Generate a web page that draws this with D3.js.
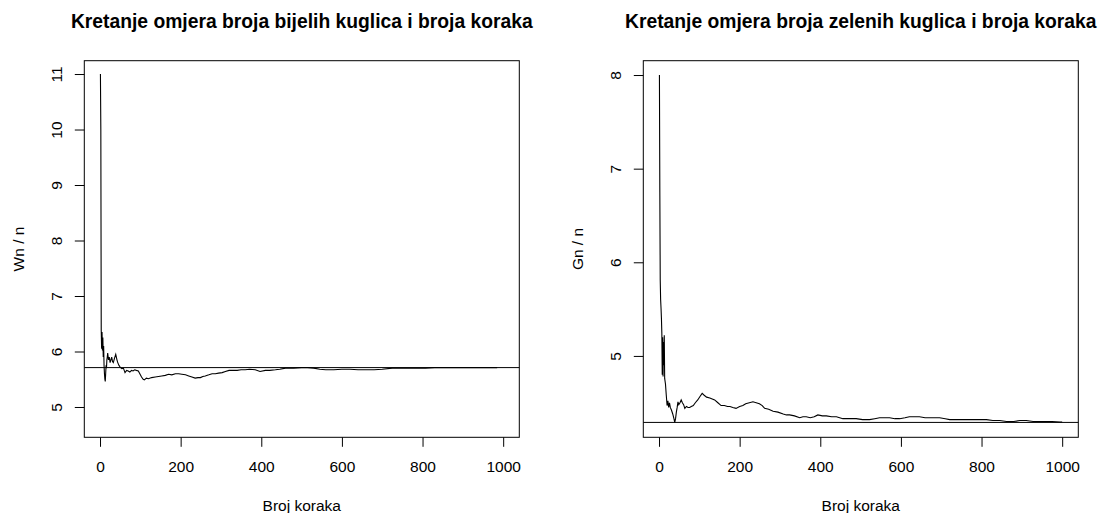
<!DOCTYPE html>
<html>
<head>
<meta charset="utf-8">
<script src="https://cdn.jsdelivr.net/npm/d3@7"></script>
<style>
  html, body { margin: 0; padding: 0; background: #fff; }
  svg { display: block; }
</style>
</head>
<body>
<div id="chart"></div>
<script>
// Values: [step n, ratio]
const whiteSeries = [
  [1, 11.0], [2, 10.0], [3, 6.38], [4, 6.05], [5, 6.35], [6, 6.02], [7, 6.25], [8, 5.9],
  [9, 6.1], [10, 5.75], [11, 5.6], [12, 5.5], [13, 5.46], [14, 5.6], [15, 5.75], [16, 5.7],
  [17, 5.85], [18, 5.9], [19, 5.97], [21, 5.85], [23, 5.9], [25, 5.8], [27, 5.85], [29, 5.9],
  [31, 5.82], [33, 5.8], [36, 5.88], [39, 5.95], [42, 5.85], [44, 5.8], [47, 5.75], [50, 5.72],
  [54, 5.69], [58, 5.7], [62, 5.62], [66, 5.66], [70, 5.65], [74, 5.63], [78, 5.66], [82, 5.65],
  [86, 5.67], [90, 5.66], [95, 5.65], [100, 5.58], [103, 5.54], [107, 5.5], [110, 5.49],
  [115, 5.52], [120, 5.51], [128, 5.53], [137, 5.54], [145, 5.55], [153, 5.56], [162, 5.57],
  [170, 5.59], [178, 5.58], [187, 5.6], [195, 5.6], [203, 5.59], [212, 5.58], [220, 5.56],
  [228, 5.54], [236, 5.52], [243, 5.53], [249, 5.53], [255, 5.55], [261, 5.56], [270, 5.58],
  [278, 5.6], [286, 5.6], [294, 5.61], [303, 5.62], [311, 5.64], [320, 5.66], [330, 5.66],
  [340, 5.66], [350, 5.67], [360, 5.67], [371, 5.68], [385, 5.67], [397, 5.64], [410, 5.66],
  [421, 5.66], [435, 5.67], [446, 5.68], [460, 5.7], [480, 5.7], [500, 5.71], [515, 5.71],
  [530, 5.7], [545, 5.68], [560, 5.67], [580, 5.67], [600, 5.68], [620, 5.68], [640, 5.67],
  [660, 5.67], [680, 5.67], [700, 5.68], [725, 5.7], [750, 5.7], [780, 5.7], [807, 5.7],
  [830, 5.71], [860, 5.71], [890, 5.71], [920, 5.71], [950, 5.71], [985, 5.71]
];

const greenSeries = [
  [1, 8.0], [2, 6.75], [3, 5.81], [4, 5.6], [5, 5.51], [6, 5.4], [7, 5.24], [8, 4.8],
  [9, 5.2], [10, 4.78], [11, 5.15], [12, 4.9], [13, 5.22], [14, 4.76], [16, 4.7], [18, 4.58],
  [20, 4.47], [22, 4.52], [24, 4.45], [26, 4.5], [28, 4.45], [31, 4.42], [34, 4.38], [37, 4.33],
  [39, 4.29], [41, 4.33], [43, 4.4], [45, 4.45], [47, 4.51], [49, 4.48], [52, 4.5], [55, 4.53],
  [58, 4.5], [61, 4.48], [64, 4.44], [68, 4.46], [72, 4.45], [76, 4.45], [80, 4.46], [85, 4.47],
  [90, 4.5], [96, 4.53], [102, 4.57], [107, 4.6], [112, 4.58], [118, 4.56], [126, 4.55],
  [132, 4.54], [138, 4.53], [146, 4.5], [154, 4.47], [162, 4.47], [170, 4.46], [176, 4.46],
  [183, 4.45], [191, 4.44], [200, 4.46], [208, 4.47], [215, 4.49], [224, 4.5], [233, 4.51],
  [241, 4.5], [249, 4.49], [256, 4.47], [262, 4.44], [272, 4.43], [283, 4.41], [295, 4.4],
  [308, 4.38], [316, 4.37], [324, 4.37], [336, 4.36], [349, 4.34], [357, 4.35], [365, 4.35],
  [375, 4.34], [385, 4.35], [394, 4.37], [405, 4.36], [415, 4.36], [428, 4.35], [440, 4.35],
  [448, 4.34], [456, 4.33], [470, 4.33], [489, 4.33], [505, 4.32], [522, 4.32], [535, 4.33],
  [547, 4.34], [560, 4.34], [572, 4.34], [585, 4.33], [597, 4.33], [610, 4.34], [621, 4.35],
  [634, 4.35], [646, 4.35], [660, 4.34], [671, 4.34], [684, 4.34], [696, 4.34], [710, 4.33],
  [721, 4.32], [735, 4.32], [746, 4.32], [762, 4.32], [779, 4.32], [795, 4.32], [812, 4.32],
  [828, 4.31], [845, 4.31], [862, 4.3], [880, 4.3], [895, 4.31], [911, 4.31], [928, 4.3],
  [944, 4.3], [960, 4.3], [975, 4.3], [994, 4.295], [1000, 4.295]
];

// reference lines (abline h=...)
const whiteRef = 5.71;
const greenRef = 4.29;

const xTicks = [0, 200, 400, 600, 800, 1000];
const whiteYTicks = [5, 6, 7, 8, 9, 10, 11];
const greenYTicks = [5, 6, 7, 8];

const xDomain = [-39, 1040];
const whiteYDomain = [4.454, 11.24];
const greenYDomain = [4.131, 8.153];

const titles = [
  "Kretanje omjera broja bijelih kuglica i broja koraka",
  "Kretanje omjera broja zelenih kuglica i broja koraka"
];
const yLabels = ["Wn / n", "Gn / n"];
const xLabel = "Broj koraka";

const W = 1100, H = 513;
const font = "'Liberation Sans', Arial, sans-serif";

const svg = d3.select("#chart").append("svg")
    .attr("width", W)
    .attr("height", H)
    .attr("viewBox", `0 0 ${W} ${H}`);

function drawPanel(left, series, ref, yTicks, yDomain, title, yLabel) {
    const top = 60.7, bottom = 437.3, right = left + 435;
    const x = d3.scaleLinear().domain(xDomain).range([left, right]);
    const y = d3.scaleLinear().domain(yDomain).range([bottom, top]);
    const g = svg.append("g");

    // plot box
    g.append("rect")
        .attr("x", left).attr("y", top)
        .attr("width", right - left).attr("height", bottom - top)
        .attr("fill", "none").attr("stroke", "#000").attr("stroke-width", 1);

    // x axis (bottom)
    const xAxis = g.append("g")
        .attr("transform", `translate(0,${bottom})`)
        .call(d3.axisBottom(x).tickValues(xTicks).tickSize(9.5).tickPadding(14).tickFormat(d3.format("d")));
    xAxis.select(".domain").remove();

    // y axis (left), labels rotated like R's default las=0
    const yAxis = g.append("g")
        .attr("transform", `translate(${left},0)`)
        .call(d3.axisLeft(y).tickValues(yTicks).tickSize(9.5).tickFormat(d3.format("d")));
    yAxis.select(".domain").remove();
    yAxis.selectAll(".tick text")
        .attr("x", null).attr("dy", null)
        .attr("transform", "translate(-28,0) rotate(-90)")
        .attr("text-anchor", "middle")
        .attr("dominant-baseline", "central");

    svg.selectAll(".tick line").attr("stroke", "#000");
    svg.selectAll(".tick text")
        .attr("fill", "#000")
        .style("font-family", font)
        .style("font-size", "15.5px");

    // data line
    const line = d3.line().x(d => x(d[0])).y(d => y(d[1]));
    g.append("path")
        .datum(series)
        .attr("d", line)
        .attr("fill", "none")
        .attr("stroke", "#000")
        .attr("stroke-width", 1.1)
        .attr("stroke-linejoin", "miter");

    // horizontal reference line across the box
    g.append("line")
        .attr("x1", left).attr("x2", right)
        .attr("y1", y(ref)).attr("y2", y(ref))
        .attr("stroke", "#000").attr("stroke-width", 1);

    // title
    g.append("text")
        .attr("x", (left + right) / 2).attr("y", 28)
        .attr("text-anchor", "middle")
        .style("font-family", font)
        .style("font-weight", "bold")
        .style("font-size", "19.3px")
        .text(title);

    // x label
    g.append("text")
        .attr("x", (left + right) / 2).attr("y", 510.5)
        .attr("text-anchor", "middle")
        .style("font-family", font)
        .style("font-size", "15.5px")
        .text(xLabel);

    // y label
    g.append("text")
        .attr("transform", `translate(${left - 66},${(top + bottom) / 2}) rotate(-90)`)
        .attr("text-anchor", "middle")
        .attr("dominant-baseline", "central")
        .style("font-family", font)
        .style("font-size", "15.5px")
        .text(yLabel);
}

drawPanel(84.3, whiteSeries, whiteRef, whiteYTicks, whiteYDomain, titles[0], yLabels[0]);
drawPanel(643.3, greenSeries, greenRef, greenYTicks, greenYDomain, titles[1], yLabels[1]);
</script>
</body>
</html>
